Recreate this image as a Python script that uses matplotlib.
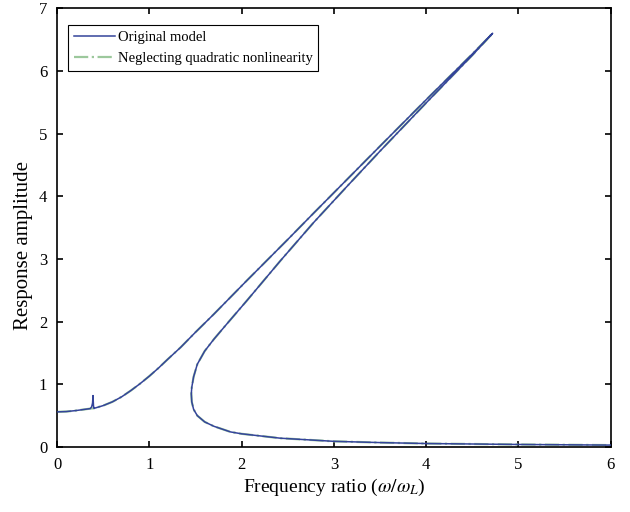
import matplotlib.pyplot as plt

plt.rcParams['font.family'] = ['Liberation Serif', 'DejaVu Serif']
plt.rcParams['mathtext.fontset'] = 'stix'

# stable upper branch (with the small superharmonic spike near 0.39)
upper_x = [0.0, 0.1, 0.2, 0.3, 0.36, 0.375, 0.385, 0.39, 0.395, 0.40, 0.41, 0.5, 0.6, 0.7,
           0.8, 0.9, 1.0, 1.1, 1.2, 1.34, 1.5, 1.7, 1.88, 2.06, 2.5, 2.78, 3.11, 3.5, 4.0,
           4.5, 4.72]
upper_y = [0.56, 0.565, 0.58, 0.6, 0.612, 0.64, 0.7, 0.82, 0.66, 0.615, 0.62, 0.66, 0.72,
           0.8, 0.9, 1.01, 1.13, 1.26, 1.4, 1.59, 1.83, 2.12, 2.39, 2.66, 3.31, 3.73, 4.22,
           4.8, 5.54, 6.27, 6.6]

# unstable middle branch down to the turning point, then the lower branch
lower_x = [4.72, 4.5, 4.0, 3.5, 3.15, 2.78, 2.42, 2.06, 1.85, 1.7, 1.6, 1.52, 1.48, 1.46,
           1.455, 1.46, 1.48, 1.52, 1.6, 1.7, 1.88, 2.0, 2.42, 3.0, 3.5, 4.0, 5.0, 6.0]
lower_y = [6.6, 6.25, 5.49, 4.72, 4.17, 3.58, 2.97, 2.34, 1.98, 1.72, 1.53, 1.32, 1.12, 0.95,
           0.85, 0.72, 0.6, 0.5, 0.4, 0.33, 0.24, 0.21, 0.14, 0.09, 0.07, 0.055, 0.04, 0.03]

spike = {5, 6, 7, 8, 9}
cubic_x = [x for i, x in enumerate(upper_x) if i not in spike] + lower_x
cubic_y = [y for i, y in enumerate(upper_y) if i not in spike] + lower_y

fig = plt.figure(figsize=(6.3, 5.12), dpi=100)
ax = fig.add_axes([0.0905, 0.127, 0.879, 0.857])

ax.plot(cubic_x, cubic_y, color='#9cc89c', lw=1.6, ls='-.',
        label='Neglecting quadratic nonlinearity', zorder=2)
ax.plot(upper_x + lower_x, upper_y + lower_y, color='#34449a', lw=1.1,
        label='Original model', zorder=3)

ax.set_xlim(0, 6)
ax.set_ylim(0, 7)
ax.set_xticks(range(7))
ax.set_yticks(range(8))
ax.tick_params(direction='in', top=True, right=True, length=4, width=1.2,
               labelsize=12, pad=7)
for s in ax.spines.values():
    s.set_linewidth(1.2)

ax.set_xlabel(r'Frequency ratio ($\omega/\omega_L$)', fontsize=14, labelpad=3)
ax.set_ylabel('Response amplitude', fontsize=15)
ax.yaxis.set_label_coords(-0.043, 0.46)

handles, labels = ax.get_legend_handles_labels()
leg = ax.legend(handles[::-1], labels[::-1], loc='upper left',
                bbox_to_anchor=(0.02, 0.962), fontsize=10.5, fancybox=False,
                framealpha=1, edgecolor='black', borderaxespad=0,
                handlelength=2.8, borderpad=0.4, labelspacing=0.55,
                handletextpad=0.2)
leg.get_frame().set_linewidth(0.8)

fig.savefig('out.png', dpi=100)
